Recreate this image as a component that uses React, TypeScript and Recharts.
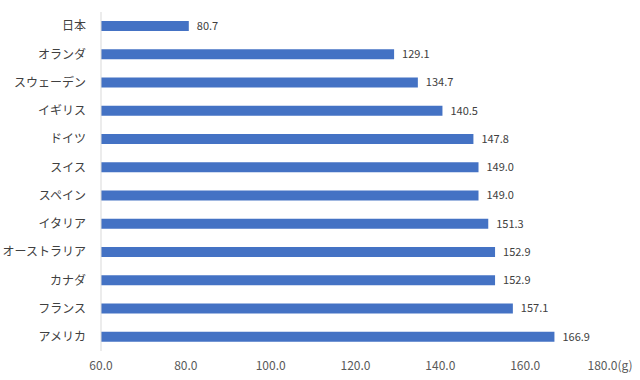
import React from 'react';
import { BarChart, Bar, XAxis, YAxis, LabelList } from 'recharts';

const countries = [
  '日本', 'オランダ', 'スウェーデン', 'イギリス', 'ドイツ', 'スイス',
  'スペイン', 'イタリア', 'オーストラリア', 'カナダ', 'フランス', 'アメリカ',
];
const amounts = [80.7, 129.1, 134.7, 140.5, 147.8, 149.0, 149.0, 151.3, 152.9, 152.9, 157.1, 166.9];
const xTicks = [60, 80, 100, 120, 140, 160, 180];

const data = countries.map((name, i) => ({ name, value: amounts[i] }));

const font = '"Noto Sans CJK JP", "Noto Sans", sans-serif';

const fmtTick = (v: number) => (v === 180 ? `${v.toFixed(1)}(g)` : v.toFixed(1));

const App: React.FC = () => {
  return (
    <div style={{ position: 'absolute', left: 0, top: 0, background: '#fff' }}>
      <BarChart
        width={640}
        height={380}
        data={data}
        layout="vertical"
        margin={{ top: 12, right: 30, left: 0, bottom: 0 }}
      >
        <XAxis
          type="number"
          domain={[60, 180]}
          ticks={xTicks}
          tickFormatter={fmtTick}
          axisLine={false}
          tickLine={false}
          height={29}
          tickMargin={4}
          tick={{ fill: '#595959', fontSize: 12, fontFamily: font }}
          allowDataOverflow
        />
        <YAxis
          type="category"
          dataKey="name"
          width={101}
          axisLine={{ stroke: '#d9d9d9' }}
          tickLine={false}
          tickMargin={9}
          interval={0}
          tick={{ fill: '#404040', fontSize: 12, fontFamily: font }}
        />
        <Bar dataKey="value" fill="#4472C4" barSize={10} isAnimationActive={false}>
          <LabelList
            dataKey="value"
            position="right"
            offset={8}
            formatter={(v: number) => v.toFixed(1)}
            style={{ fill: '#404040', fontSize: 11, fontFamily: font }}
          />
        </Bar>
      </BarChart>
    </div>
  );
};

export default App;
